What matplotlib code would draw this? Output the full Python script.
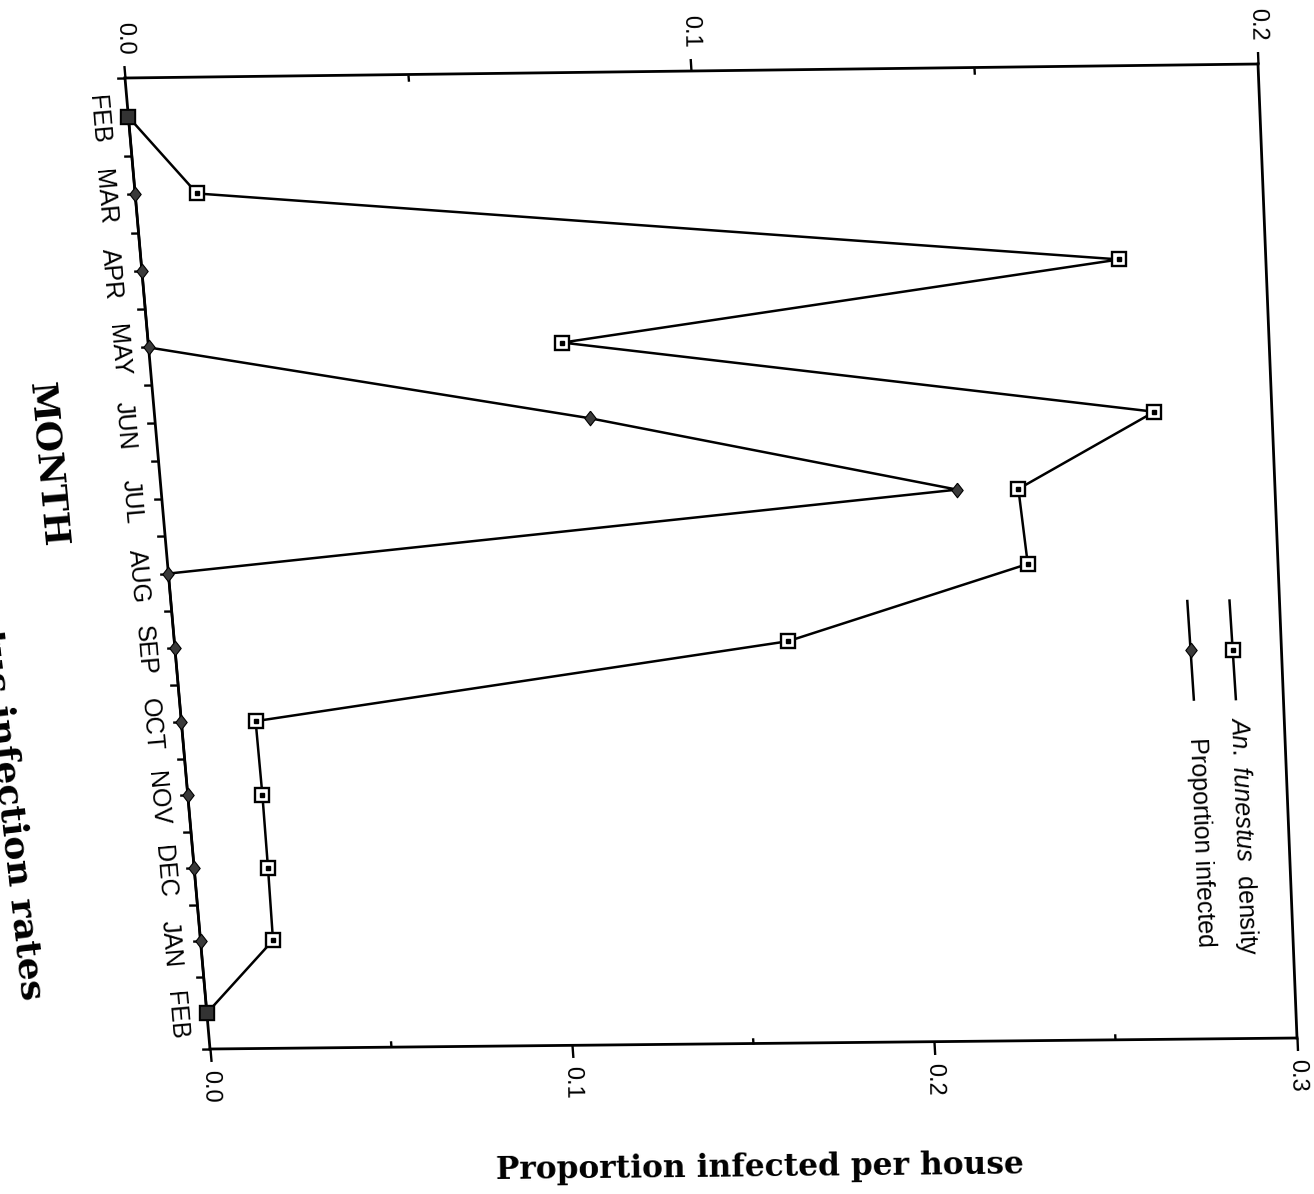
import numpy as np
import matplotlib
matplotlib.use("Agg")
import matplotlib.pyplot as plt
from matplotlib.transforms import Transform
from mpl_toolkits.axisartist import floating_axes
from mpl_toolkits.axisartist.grid_finder import FixedLocator, DictFormatter

plt.rcParams['font.family'] = ['Liberation Sans', 'DejaVu Sans']
plt.rcParams['mathtext.fontset'] = 'custom'
plt.rcParams['mathtext.rm'] = 'Liberation Sans'
plt.rcParams['mathtext.it'] = 'Liberation Sans:italic'

# monthly series, FEB to FEB
months = ["FEB", "MAR", "APR", "MAY", "JUN", "JUL", "AUG",
          "SEP", "OCT", "NOV", "DEC", "JAN", "FEB"]
density = [0.0, 0.011, 0.174, 0.074, 0.179, 0.154, 0.155,
           0.111, 0.0135, 0.0136, 0.0135, 0.0133, 0.0]
infected = [0.0, 0.0, 0.0, 0.0, 0.117, 0.2145, 0.0,
            0.0, 0.0, 0.0, 0.0, 0.0, 0.0]

infected_major = [0.0, 0.1, 0.2, 0.3]
infected_minor = [0.05, 0.15, 0.25]
density_major = [0.0, 0.1, 0.2]
density_minor = [0.05, 0.15]

W, H = 1314, 1194
# frame corners on the page (px from top-left): top-left, top-right, bottom-left, bottom-right
frame_corners = [(125, 78), (1258, 64), (210, 1049), (1297, 1038)]

month_pos = np.arange(len(months))
v_lo, v_hi = -0.5, len(months) - 0.5
month_ticks = list(np.arange(v_lo, v_hi + 0.25, 0.5))
month_labels = {float(i): m for i, m in enumerate(months)}


class Projective(Transform):
    input_dims = output_dims = 2
    is_separable = False
    has_inverse = True

    def __init__(self, m):
        super().__init__()
        self.m = np.asarray(m, float)

    def transform_non_affine(self, values):
        v = np.asarray(values, float)
        flat = v.ndim == 1
        v = np.atleast_2d(v)
        p = np.column_stack([v, np.ones(len(v))]) @ self.m.T
        out = p[:, :2] / p[:, 2:]
        return out.reshape(-1) if flat else out

    def inverted(self):
        return Projective(np.linalg.inv(self.m))


def unit_square_to(corners):
    src = [(0, 0), (1, 0), (0, 1), (1, 1)]
    A, b = [], []
    for (x, y), (px, py) in zip(src, corners):
        Y = H - py
        A.append([x, y, 1, 0, 0, 0, -x * px, -y * px])
        b.append(px)
        A.append([0, 0, 0, x, y, 1, -x * Y, -y * Y])
        b.append(Y)
    h = np.linalg.solve(np.array(A, float), np.array(b, float))
    return np.append(h, 1).reshape(3, 3)


fig = plt.figure(figsize=(W / 100, H / 100), dpi=100)
page = unit_square_to(frame_corners)


def make_frame(umax, uticks, ulabels):
    span = v_hi - v_lo
    norm = np.array([[1 / umax, 0, 0], [0, 1 / span, -v_lo / span], [0, 0, 1]])
    tr = Projective(page @ norm)
    helper = floating_axes.GridHelperCurveLinear(
        tr, extremes=(0, umax, v_lo, v_hi),
        grid_locator1=FixedLocator(uticks),
        tick_formatter1=DictFormatter(ulabels),
        grid_locator2=FixedLocator(month_ticks),
        tick_formatter2=DictFormatter(month_labels))
    ax = fig.add_axes([0, 0, 1, 1], axes_class=floating_axes.FloatingAxes,
                      grid_helper=helper)
    ax.set_xlim(0, W)
    ax.set_ylim(0, H)
    ax.set_autoscale_on(False)
    ax.patch.set_facecolor('none')
    for side in ("left", "right", "bottom", "top"):
        a = ax.axis[side]
        a.line.set_linewidth(2.0)
        a.major_ticks.set_tick_out(True)
        a.major_ticks.set_markeredgewidth(1.7)
    return ax, ax.get_aux_axes(tr)


def only(ax, keep):
    for side in ("left", "right", "bottom", "top"):
        if side != keep:
            ax.axis[side].set_visible(False)
    ax.axis[keep].line.set_visible(False)


# proportion infected frame: month axis on the left, 0-0.3 scale along the bottom
ax_p, aux_p = make_frame(0.3, infected_major, {t: f"{t:.1f}" for t in infected_major})
left = ax_p.axis["left"]
left.set_axis_direction("bottom")
left.major_ticks.set_ticksize(6)
left.major_ticklabels.set_fontfamily(['Liberation Sans Narrow', 'Liberation Sans'])
left.major_ticklabels.set_fontsize(18)
left.major_ticklabels.set_pad(8)
low = ax_p.axis["top"]
low.set_axis_direction("right")
low.major_ticks.set_ticksize(9)
low.major_ticklabels.set_visible(True)
low.major_ticklabels.set_fontsize(17)
low.major_ticklabels.set_pad(6)
ax_p.axis["bottom"].major_ticks.set_visible(False)
ax_p.axis["bottom"].major_ticklabels.set_visible(False)
ax_p.axis["right"].major_ticks.set_visible(False)

ax_pm, _ = make_frame(0.3, infected_minor, {})
only(ax_pm, "top")
ax_pm.axis["top"].major_ticks.set_ticksize(4.5)

# density frame: 0-0.2 scale along the top
ax_d, aux_d = make_frame(0.2, density_major, {t: f"{t:.1f}" for t in density_major})
only(ax_d, "bottom")
high = ax_d.axis["bottom"]
high.set_axis_direction("left")
high.major_ticks.set_ticksize(9)
high.major_ticklabels.set_fontsize(17)
high.major_ticklabels.set_pad(7.5)

ax_dm, _ = make_frame(0.2, density_minor, {})
only(ax_dm, "bottom")
ax_dm.axis["bottom"].major_ticks.set_ticksize(4.5)

diamond = [(0, 1), (0.78, 0), (0, -1), (-0.78, 0), (0, 1)]

aux_p.plot(infected, month_pos, color='black', lw=1.8, marker=diamond, ms=10.5,
           mfc='#3a3a3a', mec='black', mew=0.8, clip_on=False, zorder=3)
aux_d.plot(density, month_pos, color='black', lw=1.8, marker='s', ms=9.5,
           mfc='white', mec='black', mew=1.7, clip_on=False, zorder=4)
aux_d.plot(density, month_pos, ls='none', marker='s', ms=2.2, color='black',
           clip_on=False, zorder=5)
dens = np.array(density)
aux_d.plot(dens[dens == 0], month_pos[dens == 0], ls='none', marker='s', ms=10,
           mfc='#333333', mec='black', mew=1.2, clip_on=False, zorder=6)

# legend keys, placed in frame fractions
key_tr = Projective(page) + ax_p.transData
ax_p.plot([0.955, 0.957], [0.54, 0.642], transform=key_tr, color='black', lw=1.8,
          clip_on=False)
ax_p.plot([0.956], [0.591], transform=key_tr, marker='s', ms=9.5, mfc='white',
          mec='black', mew=1.7, clip_on=False)
ax_p.plot([0.956], [0.591], transform=key_tr, marker='s', ms=2.2, color='black',
          clip_on=False)
ax_p.plot([0.917, 0.919], [0.54, 0.642], transform=key_tr, color='black', lw=1.8,
          clip_on=False)
ax_p.plot([0.918], [0.591], transform=key_tr, marker=diamond, ms=10.5,
          mfc='#3a3a3a', mec='black', mew=0.8, clip_on=False)
ax_p.text(0.958, 0.66, r"$\mathit{An.\ funestus}$  density", transform=key_tr,
          rotation=-87.7, rotation_mode='anchor', ha='left', va='center', fontsize=18)
ax_p.text(0.920, 0.682, "Proportion infected", transform=key_tr,
          rotation=-87.7, rotation_mode='anchor', ha='left', va='center', fontsize=18)

serif = dict(family='DejaVu Serif', weight='bold')
fig.text(760 / W, 1 - 1168 / H, "Proportion infected per house", rotation=0.6,
         ha='center', va='center', fontsize=22.5, **serif)
fig.text(47 / W, 1 - 465 / H, "MONTH", rotation=-85, rotation_mode='anchor',
         ha='center', va='center', fontsize=26, **serif)
fig.text(32 / W, 1 - 1000 / H, "funestus infection rates", rotation=-83.5,
         rotation_mode='anchor', ha='right', va='center', fontsize=26, **serif)

fig.savefig("out.png", dpi=100, facecolor='white')
